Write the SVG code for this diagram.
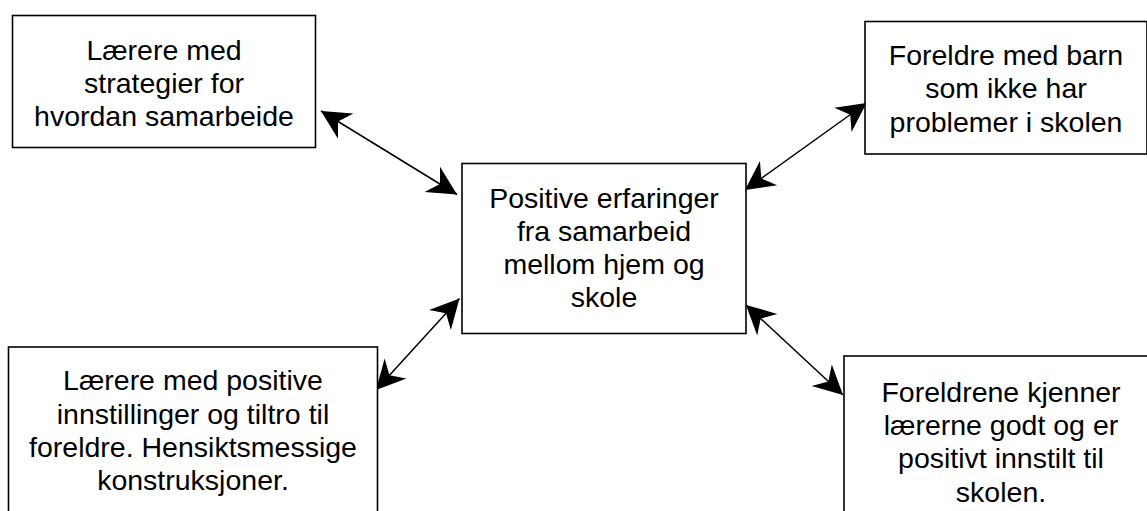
<svg xmlns="http://www.w3.org/2000/svg" width="1147" height="511" viewBox="0 0 1147 511">
<style>
.box{fill:#fff;stroke:#000;stroke-width:1.6}
.lbl{font-family:"Liberation Sans",Arial,sans-serif;font-size:28.5px;fill:#000;text-anchor:middle}
.conn{stroke:#000;stroke-width:1.5;fill:none;marker-start:url(#ah);marker-end:url(#ah)}
</style>
<defs>
<marker id="ah" viewBox="-30 -16 31 32" refX="0" refY="0" markerWidth="31" markerHeight="32" markerUnits="userSpaceOnUse" orient="auto-start-reverse">
<path d="M0,0 L-29,-14.8 L-20,0 L-29,14.8 Z" fill="#000"/>
</marker>
</defs>
<rect width="1147" height="511" fill="#fff"/>
<g id="connectors">
<line class="conn" x1="321" y1="111" x2="457" y2="194.5"/>
<line class="conn" x1="745" y1="190" x2="866.5" y2="103"/>
<line class="conn" x1="459.5" y1="298.5" x2="376" y2="390"/>
<line class="conn" x1="746" y1="305" x2="843" y2="395"/>
</g>
<g id="node-teachers-strategies">
<rect class="box" x="12.5" y="15.5" width="303" height="132"/>
<text class="lbl" x="164" y="60">Lærere med</text>
<text class="lbl" x="164" y="93">strategier for</text>
<text class="lbl" x="164" y="126">hvordan samarbeide</text>
</g>
<g id="node-parents-no-problems">
<rect class="box" x="865" y="21.5" width="282" height="132.5"/>
<text class="lbl" x="1006" y="65">Foreldre med barn</text>
<text class="lbl" x="1006" y="98">som ikke har</text>
<text class="lbl" x="1006" y="131.5">problemer i skolen</text>
</g>
<g id="node-center">
<rect class="box" x="462" y="163.5" width="284" height="170"/>
<text class="lbl" x="604" y="207.5">Positive erfaringer</text>
<text class="lbl" x="604" y="240.5">fra samarbeid</text>
<text class="lbl" x="604" y="273.5">mellom hjem og</text>
<text class="lbl" x="604" y="307">skole</text>
</g>
<g id="node-teachers-positive">
<rect class="box" x="8.5" y="347" width="369" height="170"/>
<text class="lbl" x="193" y="390">Lærere med positive</text>
<text class="lbl" x="193" y="423.5">innstillinger og tiltro til</text>
<text class="lbl" x="193" y="457">foreldre. Hensiktsmessige</text>
<text class="lbl" x="193" y="490">konstruksjoner.</text>
</g>
<g id="node-parents-know">
<rect class="box" x="844" y="356" width="320" height="170"/>
<text class="lbl" x="1001" y="401.7">Foreldrene kjenner</text>
<text class="lbl" x="1001" y="435">lærerne godt og er</text>
<text class="lbl" x="1001" y="468.3">positivt innstilt til</text>
<text class="lbl" x="1001" y="501.7">skolen.</text>
</g>
</svg>
